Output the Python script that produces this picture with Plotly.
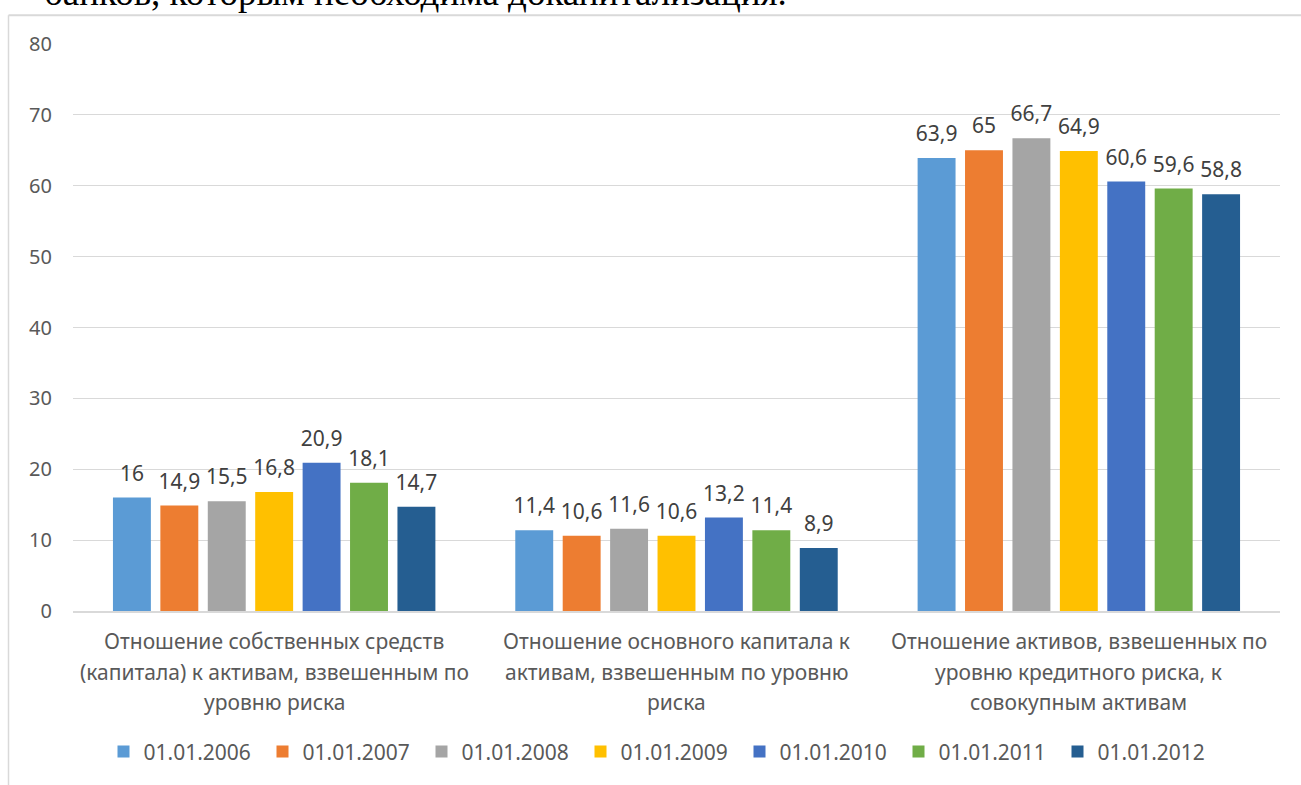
import plotly.graph_objects as go

# Показатели достаточности капитала, %
categories = [
    "Отношение собственных средств (капитала) к активам, взвешенным по уровню риска",
    "Отношение основного капитала к активам, взвешенным по уровню риска",
    "Отношение активов, взвешенных по уровню кредитного риска, к совокупным активам",
]
category_lines = [
    ["Отношение собственных средств", "(капитала) к активам, взвешенным по", "уровню риска"],
    ["Отношение основного капитала к", "активам, взвешенным по уровню", "риска"],
    ["Отношение активов, взвешенных по", "уровню кредитного риска, к", "совокупным активам"],
]
dates = ["01.01.2006", "01.01.2007", "01.01.2008", "01.01.2009",
         "01.01.2010", "01.01.2011", "01.01.2012"]

v_2006 = [16.0, 11.4, 63.9]
v_2007 = [14.9, 10.6, 65.0]
v_2008 = [15.5, 11.6, 66.7]
v_2009 = [16.8, 10.6, 64.9]
v_2010 = [20.9, 13.2, 60.6]
v_2011 = [18.1, 11.4, 59.6]
v_2012 = [14.7, 8.9, 58.8]
series = [v_2006, v_2007, v_2008, v_2009, v_2010, v_2011, v_2012]

colors = ["#5B9BD5", "#ED7D31", "#A5A5A5", "#FFC000", "#4472C4", "#70AD47", "#255E91"]

FONT = "Noto Sans"
TXT = "#595959"
LBL = "#404040"
GRID = "#D9D9D9"

W, H = 1301, 785
ML, MR, MT, MB = 73, 21, 43.5, 171.5
PW, PH = W - ML - MR, H - MT - MB


def px_x(px):
    return (px - ML) / PW


def px_y(py):
    return (H - MB - py) / PH


def fmt(v):
    return f"{v:g}".replace(".", ",")


fig = go.Figure()

for name, vals, col in zip(dates, series, colors):
    fig.add_trace(go.Bar(
        x=categories, y=vals, name=name,
        marker=dict(color=col, line=dict(width=0)),
        offsetgroup=name,
        hoverinfo="skip",
    ))

# value labels, grouped like the bars
for name, vals in zip(dates, series):
    fig.add_trace(go.Scatter(
        x=categories, y=vals, mode="markers+text",
        text=[fmt(v) for v in vals], textposition="top center",
        textfont=dict(family=FONT, size=21, color=LBL),
        marker=dict(size=17, color="rgba(0,0,0,0)"),
        offsetgroup=name, showlegend=False, hoverinfo="skip",
    ))

# category captions, three lines each
for cat, lines in zip(categories, category_lines):
    for i, line in enumerate(lines):
        fig.add_annotation(
            x=cat, xref="x", y=px_y(644 + 30.5 * i), yref="paper",
            text=line, showarrow=False, xanchor="center", yanchor="middle",
            font=dict(family=FONT, size=21, color=TXT),
        )

# heading line above the chart frame
fig.add_annotation(
    x=px_x(42), xref="paper", y=px_y(14), yref="paper",
    text="банков, которым необходима докапитализация.",
    showarrow=False, xanchor="left", yanchor="bottom",
    font=dict(family="Liberation Serif", size=37, color="#000000"),
)

# chart frame
fig.add_shape(type="line", xref="paper", yref="paper",
              x0=px_x(8.5), x1=px_x(1310), y0=px_y(14.5), y1=px_y(14.5),
              line=dict(color=GRID, width=2))
fig.add_shape(type="line", xref="paper", yref="paper",
              x0=px_x(8.5), x1=px_x(8.5), y0=px_y(14.5), y1=px_y(800),
              line=dict(color=GRID, width=1.5))

fig.update_layout(
    width=W, height=H,
    margin=dict(l=ML, r=MR, t=MT, b=MB),
    paper_bgcolor="white", plot_bgcolor="white",
    barmode="group", bargap=0.175, bargroupgap=0.2,
    scattermode="group", scattergap=0.175,
    font=dict(family=FONT, size=20, color=TXT),
    showlegend=True,
    legend=dict(
        orientation="h", x=px_x(660), xanchor="center",
        y=px_y(755), yanchor="middle",
        font=dict(family=FONT, size=21, color=TXT),
        entrywidth=114, entrywidthmode="pixels",
        itemclick=False, itemdoubleclick=False,
    ),
    xaxis=dict(showticklabels=False, showline=True, linecolor=GRID, linewidth=1.5,
               ticks="", showgrid=False, zeroline=False),
    yaxis=dict(range=[0, 80], dtick=10, showgrid=True, gridcolor=GRID, gridwidth=1,
               zeroline=False, showline=False, ticks="",
               ticklabelstandoff=20,
               tickfont=dict(family=FONT, size=20, color=TXT)),
)

fig.write_html("out.html")
